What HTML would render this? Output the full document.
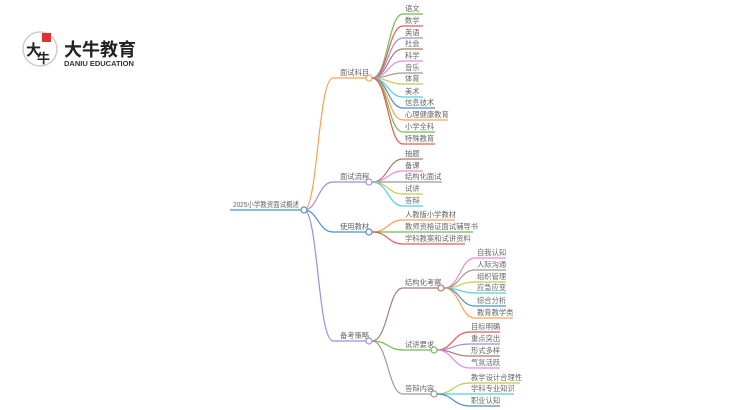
<!DOCTYPE html>
<html><head><meta charset="utf-8"><style>
body{margin:0;background:#fff;}
svg{display:block;font-family:"Liberation Sans","Noto Sans CJK SC",sans-serif;}
text{font-size:7.3px;fill:#666;}
path{fill:none;stroke-width:1.2;}
</style></head><body>
<svg width="750" height="410" viewBox="0 0 750 410" xmlns="http://www.w3.org/2000/svg">
<!-- logo -->
<circle cx="40" cy="49" r="17" fill="none" stroke="#ccc" stroke-width="1.5"/>
<text x="26" y="55" style="font-size:15px;fill:#222;font-weight:bold">大</text>
<text x="37" y="63" style="font-size:13px;fill:#222;font-weight:bold">牛</text>
<rect x="42" y="33" width="9" height="9" fill="#d33"/>
<text x="64" y="56" style="font-size:18px;fill:#222;font-weight:bold">大牛教育</text>
<text x="64" y="66" style="font-size:7.5px;fill:#333;font-weight:bold">DANIU EDUCATION</text>

<!-- root -->
<path d="M230 210 L301 210" stroke="#4a90d0"/>
<text x="233" y="207" textLength="66" lengthAdjust="spacingAndGlyphs">2025小学教资面试概述</text>

<!-- main branches -->
<path d="M304 210 C318 210,318 78,333 78 L366 78" stroke="#ffa050"/>
<path d="M304 210 C318 210,318 182,333 182 L366 182" stroke="#a78ad8"/>
<path d="M304 210 C318 210,318 232,333 232 L366 232" stroke="#4a90d0"/>
<path d="M304 210 C318 210,318 341,333 341 L366 341" stroke="#a78ad8"/>
<text x="340" y="75">面试科目</text>
<text x="340" y="179">面试流程</text>
<text x="340" y="229">使用教材</text>
<text x="340" y="338">备考策略</text>

<!-- branch1 leaves -->
<path d="M372 78 C388 78,388 14,403 14 L423 14" stroke="#6cbf4f"/>
<path d="M372 78 C388 78,388 26,403 26 L423 26" stroke="#e85a5a"/>
<path d="M372 78 C388 78,388 38,403 38 L423 38" stroke="#a78ad8"/>
<path d="M372 78 C388 78,388 49,403 49 L423 49" stroke="#a97b72"/>
<path d="M372 78 C388 78,388 61,403 61 L423 61" stroke="#e98bd6"/>
<path d="M372 78 C388 78,388 73,403 73 L423 73" stroke="#9a9a9a"/>
<path d="M372 78 C388 78,388 84,403 84 L423 84" stroke="#c8c850"/>
<path d="M372 78 C388 78,388 97,403 97 L423 97" stroke="#4fd0e0"/>
<path d="M372 78 C388 78,388 108,403 108 L435 108" stroke="#4a90d0"/>
<path d="M372 78 C388 78,388 120,403 120 L448 120" stroke="#ffa050"/>
<path d="M372 78 C388 78,388 132,403 132 L435 132" stroke="#6cbf4f"/>
<path d="M372 78 C388 78,388 144,403 144 L435 144" stroke="#e85a5a"/>
<text x="405" y="11">语文</text><text x="405" y="23">数学</text><text x="405" y="35">英语</text>
<text x="405" y="46">社会</text><text x="405" y="58">科学</text><text x="405" y="70">音乐</text>
<text x="405" y="81">体育</text><text x="405" y="94">美术</text><text x="405" y="105">信息技术</text>
<text x="405" y="117">心理健康教育</text><text x="405" y="129">小学全科</text><text x="405" y="141">特殊教育</text>

<!-- branch2 -->
<path d="M372 182 C388 182,388 159,403 159 L423 159" stroke="#a97b72"/>
<path d="M372 182 C388 182,388 171,403 171 L423 171" stroke="#e98bd6"/>
<path d="M372 182 L442 182" stroke="#9a9a9a"/>
<path d="M372 182 C388 182,388 194,403 194 L423 194" stroke="#c8c850"/>
<path d="M372 182 C388 182,388 206,403 206 L423 206" stroke="#4fd0e0"/>
<text x="405" y="156">抽题</text><text x="405" y="168">备课</text><text x="405" y="179">结构化面试</text>
<text x="405" y="191">试讲</text><text x="405" y="203">答辩</text>

<!-- branch3 -->
<path d="M372 232 C388 232,388 220,403 220 L455 220" stroke="#ffa050"/>
<path d="M372 232 L473 232" stroke="#6cbf4f"/>
<path d="M372 232 C388 232,388 244,403 244 L465 244" stroke="#e85a5a"/>
<text x="405" y="217">人教版小学教材</text><text x="405" y="229">教师资格证面试辅导书</text><text x="405" y="241">学科教案和试讲资料</text>

<!-- branch4 subs -->
<path d="M372 341 C388 341,388 288,403 288 L438 288" stroke="#a97b72"/>
<path d="M372 341 C388 341,388 350,403 350 L431 350" stroke="#6cbf4f"/>
<path d="M372 341 C388 341,388 394,403 394 L431 394" stroke="#9a9a9a"/>
<text x="405" y="285">结构化考察</text><text x="405" y="347">试讲要求</text><text x="405" y="391">答辩内容</text>

<path d="M444 288 C460 288,460 258,475 258 L506 258" stroke="#e98bd6"/>
<path d="M444 288 C460 288,460 270,475 270 L506 270" stroke="#9a9a9a"/>
<path d="M444 288 C460 288,460 282,475 282 L506 282" stroke="#c8c850"/>
<path d="M444 288 C460 288,460 293,475 293 L506 293" stroke="#4fd0e0"/>
<path d="M444 288 C460 288,460 306,475 306 L506 306" stroke="#4a90d0"/>
<path d="M444 288 C460 288,460 318,475 318 L513 318" stroke="#ffa050"/>
<text x="477" y="255">自我认知</text><text x="477" y="267">人际沟通</text><text x="477" y="279">组织管理</text>
<text x="477" y="290">应急应变</text><text x="477" y="303">综合分析</text><text x="477" y="315">教育教学类</text>

<path d="M437 350 C453 350,453 332,470 332 L500 332" stroke="#e85a5a"/>
<path d="M437 350 C453 350,453 344,470 344 L500 344" stroke="#a78ad8"/>
<path d="M437 350 C453 350,453 356,470 356 L500 356" stroke="#a97b72"/>
<path d="M437 350 C453 350,453 368,470 368 L500 368" stroke="#e98bd6"/>
<text x="471" y="329">目标明确</text><text x="471" y="341">重点突出</text><text x="471" y="353">形式多样</text><text x="471" y="365">气氛活跃</text>

<path d="M437 394 C453 394,453 383,470 383 L520 383" stroke="#c8c850"/>
<path d="M437 394 C453 394,453 394,470 394 L514 394" stroke="#4fd0e0"/>
<path d="M437 394 C453 394,453 406,470 406 L500 406" stroke="#4a90d0"/>
<text x="471" y="380">教学设计合理性</text><text x="471" y="391">学科专业知识</text><text x="471" y="403">职业认知</text>

<!-- circles -->
<g fill="#fff" stroke-width="1.2">
<circle cx="304" cy="210" r="3" stroke="#4a90d0"/>
<circle cx="369" cy="78" r="3" stroke="#ffa050"/>
<circle cx="369" cy="182" r="3" stroke="#a78ad8"/>
<circle cx="369" cy="232" r="3" stroke="#4a90d0"/>
<circle cx="369" cy="341" r="3" stroke="#a78ad8"/>
<circle cx="441" cy="288" r="3" stroke="#a97b72"/>
<circle cx="434" cy="350" r="3" stroke="#6cbf4f"/>
<circle cx="434" cy="394" r="3" stroke="#9a9a9a"/>
</g>
</svg>
</body></html>
